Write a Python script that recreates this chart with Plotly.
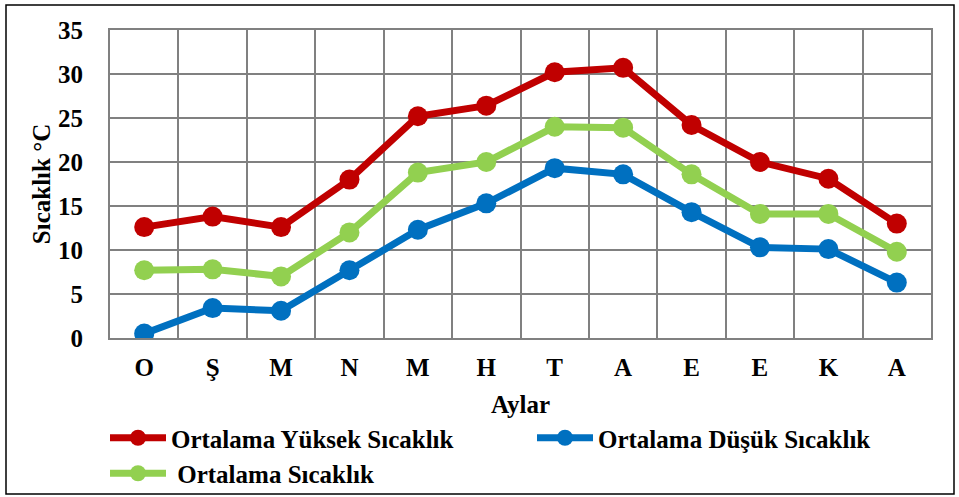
import plotly.graph_objects as go

months = ["O", "Ş", "M", "N", "M", "H", "T", "A", "E", "E", "K", "A"]
high = [12.6, 13.8, 12.6, 18.0, 25.2, 26.4, 30.2, 30.7, 24.2, 20.0, 18.1, 13.0]
low = [0.5, 3.4, 3.1, 7.7, 12.3, 15.3, 19.3, 18.6, 14.3, 10.3, 10.1, 6.3]
mean = [7.7, 7.8, 7.0, 12.0, 18.8, 20.0, 24.0, 23.9, 18.6, 14.1, 14.1, 9.8]
y_ticks = [0, 5, 10, 15, 20, 25, 30, 35]

idx = list(range(len(months)))
FONT = "Liberation Serif"
FS = 25

fig = go.Figure()
series = [
    ("Ortalama Yüksek Sıcaklık", high, "#C00000"),
    ("Ortalama Düşük Sıcaklık", low, "#0070C0"),
    ("\u00a0Ortalama Sıcaklık", mean, "#92D050"),
]
for name, vals, col in series:
    fig.add_trace(go.Scatter(
        x=idx, y=vals, name=name, mode="lines+markers",
        line=dict(color=col, width=7),
        marker=dict(color=col, size=20),
    ))

W, H = 959, 497
ml, mr, mt, mb = 110, 28, 30, 159
pw, ph = W - ml - mr, H - mt - mb

def px_x(p):
    return (p - ml) / pw

def px_y(p):
    return (H - mb - p) / ph

fig.update_layout(
    width=W, height=H,
    margin=dict(l=ml, r=mr, t=mt, b=mb, autoexpand=False),
    paper_bgcolor="white", plot_bgcolor="white",
    font=dict(family=FONT, color="black", size=FS),
    showlegend=True,
    legend=dict(
        orientation="h", x=px_x(105), y=px_y(415), xanchor="left", yanchor="top",
        bgcolor="rgba(0,0,0,0)",
        font=dict(family=FONT, size=FS, color="black", weight="bold"),
        entrywidth=356, entrywidthmode="pixels",
        tracegroupgap=0, itemwidth=56,
    ),
    xaxis=dict(
        range=[-0.5, 11.5], tickvals=idx, ticktext=months,
        showgrid=False, zeroline=False,
        showline=True, linecolor="#808080", linewidth=2, mirror=True,
        ticks="", ticklabelstandoff=6,
        tickfont=dict(family=FONT, size=FS, weight="bold"),
        minor=dict(tickvals=[i + 0.5 for i in idx[:-1]], showgrid=True,
                   gridcolor="#808080", gridwidth=2, ticks=""),
        title=dict(text="Aylar", font=dict(family=FONT, size=FS, weight="bold"), standoff=15),
    ),
    yaxis=dict(
        range=[0, 35], tickvals=y_ticks,
        showgrid=True, gridcolor="#808080", gridwidth=2, zeroline=False,
        showline=True, linecolor="#808080", linewidth=2, mirror=True,
        ticks="", ticklabelstandoff=20,
        tickfont=dict(family=FONT, size=FS, weight="bold"),
        title=dict(text="Sıcaklık °C", font=dict(family=FONT, size=FS, weight="bold"), standoff=0),
    ),
    shapes=[dict(type="rect", xref="paper", yref="paper",
                 x0=px_x(6), x1=px_x(954), y0=px_y(494), y1=px_y(5),
                 line=dict(color="black", width=1.5), fillcolor="rgba(0,0,0,0)", layer="below")],
)

fig.write_html("out.html", config={"displayModeBar": False},
               post_script="document.body.style.margin='0';")
